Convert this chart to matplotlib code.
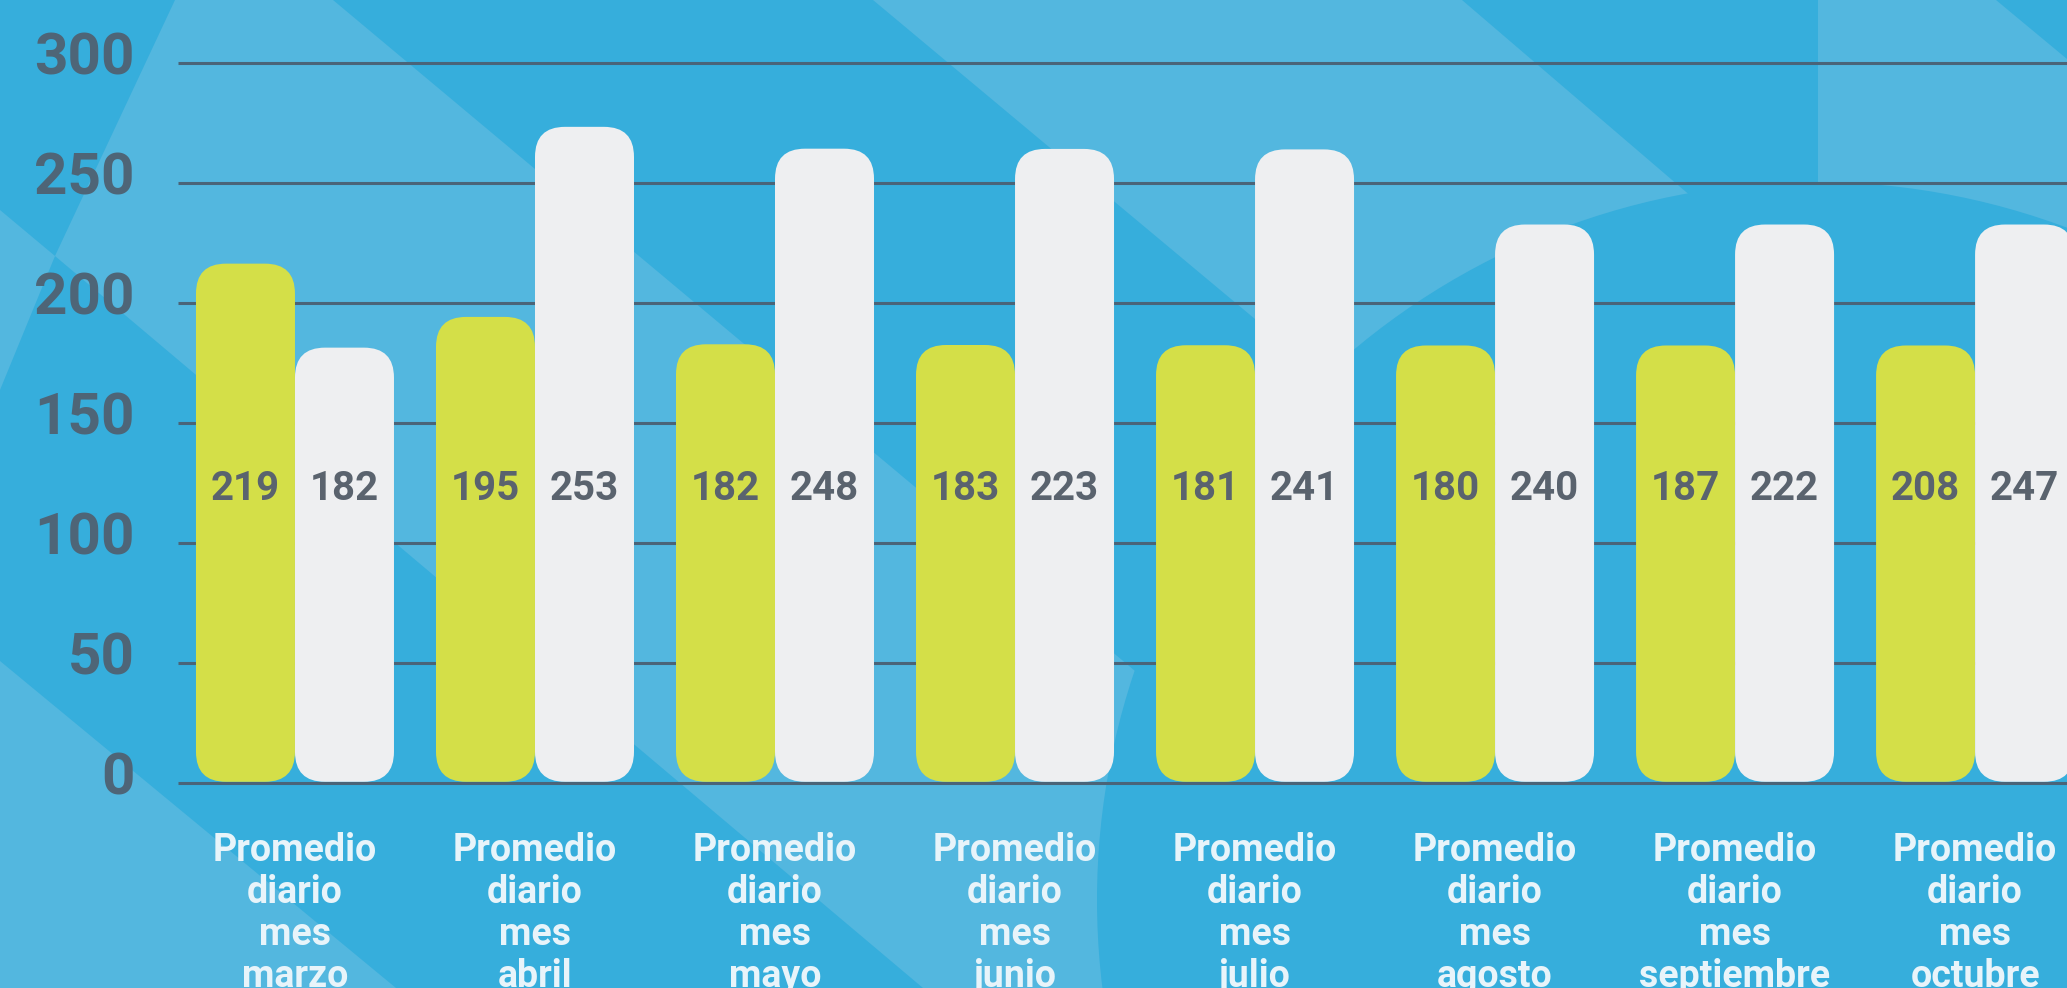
import matplotlib
matplotlib.use("Agg")
import matplotlib.pyplot as plt
from matplotlib.patches import FancyBboxPatch, Polygon, Circle

# data
months = ['marzo', 'abril', 'mayo', 'junio', 'julio', 'agosto', 'septiembre', 'octubre']
green_labels = [219, 195, 182, 183, 181, 180, 187, 208]
white_labels = [182, 253, 248, 223, 241, 240, 222, 247]
# bar heights as drawn in the picture (they do not follow the printed numbers)
green_heights = [216.4, 194.2, 182.8, 182.5, 182.4, 182.3, 182.3, 182.3]
white_heights = [181.4, 273.4, 264.3, 264.2, 264.0, 232.7, 232.7, 232.7]
y_ticks = [0, 50, 100, 150, 200, 250, 300]

BASE = '#36aedc'
LIGHT = '#53b7df'
GREEN = '#d4df48'
WHITE = '#eeeff1'

W, H = 2067, 988
fig = plt.figure(figsize=(W / 100, H / 100), dpi=100)
fig.patch.set_facecolor(BASE)

# background decoration, pixel coords
bg = fig.add_axes([0, 0, 1, 1])
bg.set_xlim(0, W)
bg.set_ylim(H, 0)
bg.axis('off')
shapes = [
    [(175, 0), (333, 0), (1514, 988), (923, 988), (55, 256)],
    [(0, 210), (55, 256), (0, 390)],
    [(0, 661), (396, 988), (0, 988)],
    [(873, 0), (1462, 0), (2615, 988), (2056, 988)],
    [(1818, 0), (1996, 0), (2067, 59), (2067, 400), (1818, 400)],
]
for pts in shapes:
    bg.add_patch(Polygon(pts, closed=True, facecolor=LIGHT, edgecolor='none'))
bg.add_patch(Circle((1815, 900), 718, facecolor=BASE, edgecolor='none'))

# chart axes: x in group units, y in data units
ax = fig.add_axes([0, 0, 1, 1])
ax.patch.set_alpha(0)
ax.set_xlim(-1.229, 7.383)
ax.set_ylim(-85.42, 326.25)
ax.axis('off')

ax.hlines(y_ticks, -0.4875, 7.5, colors='#4a6478', linewidth=2.2, zorder=1)
for t in y_ticks:
    ax.text(-0.667, t + 1.7, str(t), ha='right', va='center', fontsize=42,
            fontweight='semibold', color='#4e6577', family='Roboto')

w = 0.4125
for i in range(len(months)):
    for x0, hgt, lab, col in [(i - w, green_heights[i], green_labels[i], GREEN),
                              (i, white_heights[i], white_labels[i], WHITE)]:
        ax.add_patch(FancyBboxPatch((x0, 0.5), w, hgt - 0.5,
                                    boxstyle='round,pad=0,rounding_size=0.125',
                                    mutation_aspect=100, facecolor=col,
                                    edgecolor='none', zorder=2))
        ax.text(x0 + w / 2, 122.3, str(lab), ha='center', va='center', fontsize=29,
                fontweight='semibold', color='#5a636e', family='Roboto', zorder=3)
    ax.text(i, -20.5, 'Promedio\ndiario\nmes\n' + months[i], ha='center', va='top',
            fontsize=27, fontweight='semibold', color='#e8f4fa', family='Roboto',
            linespacing=1.17, zorder=3)

fig.savefig('out.png', dpi=100, facecolor=BASE)
